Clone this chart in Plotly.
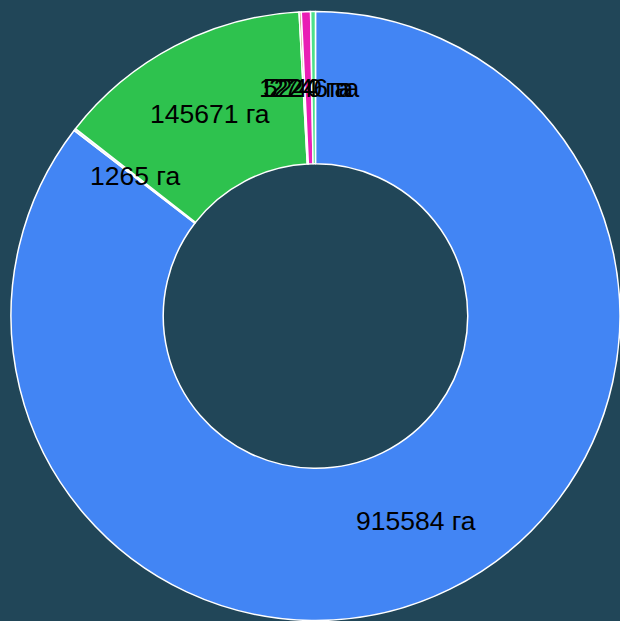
import math
import plotly.graph_objects as go

values = [915584, 1265, 145671, 1224, 5240, 2746]
labels = [f"{v} га" for v in values]
colors = ["#4285f4", "#dfe6ee", "#2ec24e", "#b07a4a", "#e91eb5", "#4de08a"]

W, H = 620, 621
bg = "#214658"

dom_x = [0.0177, 1.0]
dom_y = [0.0008, 0.9814]
hole = 0.5

fig = go.Figure(go.Pie(
    values=values, labels=labels, marker=dict(colors=colors, line=dict(color="white", width=1.5)),
    sort=False, direction="clockwise", rotation=0, hole=hole,
    textinfo="none", hoverinfo="label", showlegend=False,
    domain=dict(x=dom_x, y=dom_y),
))

# annotations at middle of each arc, computed from the data
bw = (dom_x[1] - dom_x[0]) * W
bh = (dom_y[1] - dom_y[0]) * H
R = min(bw, bh) / 2
cx = (dom_x[0] + dom_x[1]) / 2 * W
cy = (1 - (dom_y[0] + dom_y[1]) / 2) * H
rm = R * (1 + hole) / 2
total = sum(values)
acc = 0
for v, t in zip(values, labels):
    mid = (acc + v / 2) / total * 2 * math.pi
    acc += v
    px = cx + rm * math.sin(mid)
    py = cy - rm * math.cos(mid)
    fig.add_annotation(x=px / W, y=1 - py / H, xref="paper", yref="paper", text=t,
                       showarrow=False, font=dict(family="Liberation Sans, Arial", size=26.5, color="black"),
                       xanchor="center", yanchor="middle")

fig.update_layout(width=W, height=H, margin=dict(l=0, r=0, t=0, b=0),
                  paper_bgcolor=bg, plot_bgcolor=bg)
fig.write_html("out.html", config={"displayModeBar": False},
               post_script="document.body.style.margin='0';document.body.style.overflow='hidden';"
                           "document.body.style.background='#214658';")
